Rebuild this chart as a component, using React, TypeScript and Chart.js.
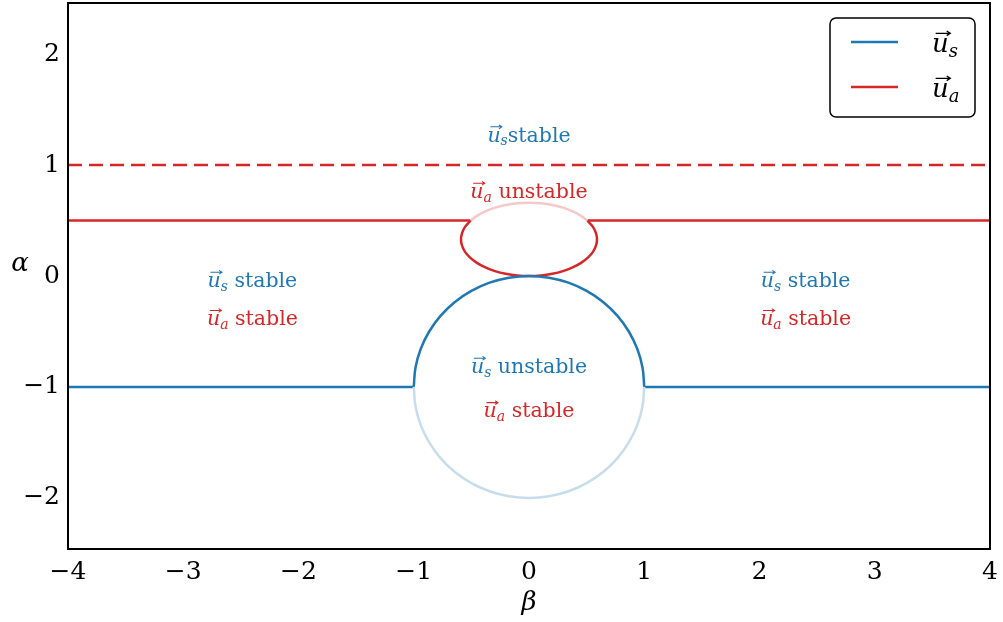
import React, { useEffect, useRef } from "react";
import { Chart, registerables } from "chart.js";

Chart.register(...registerables);

// Stability boundaries in the (β, α) plane
const usBranchLeft = [{ x: -4, y: -1 }, { x: -1, y: -1 }];
const usBranchRight = [{ x: 1, y: -1 }, { x: 4, y: -1 }];
const usArcUpperX = [-1, -0.985, -0.94, -0.866, -0.766, -0.643, -0.5, -0.342, -0.174, 0, 0.174, 0.342, 0.5, 0.643, 0.766, 0.866, 0.94, 0.985, 1];
const usArcUpperY = [-1, -0.826, -0.658, -0.5, -0.357, -0.234, -0.134, -0.06, -0.015, 0, -0.015, -0.06, -0.134, -0.234, -0.357, -0.5, -0.658, -0.826, -1];
const usArcLowerX = [-1, -0.985, -0.94, -0.866, -0.766, -0.643, -0.5, -0.342, -0.174, 0, 0.174, 0.342, 0.5, 0.643, 0.766, 0.866, 0.94, 0.985, 1];
const usArcLowerY = [-1, -1.174, -1.342, -1.5, -1.643, -1.766, -1.866, -1.94, -1.985, -2, -1.985, -1.94, -1.866, -1.766, -1.643, -1.5, -1.342, -1.174, -1];

const uaBranchLeft = [{ x: -4, y: 0.5 }, { x: -0.506, y: 0.5 }];
const uaBranchRight = [{ x: 0.506, y: 0.5 }, { x: 4, y: 0.5 }];
const uaLoopLowerX = [-0.506, -0.555, -0.581, -0.59, -0.581, -0.555, -0.511, -0.452, -0.379, -0.295, -0.202, -0.103, 0, 0.103, 0.202, 0.295, 0.379, 0.452, 0.511, 0.555, 0.581, 0.59, 0.581, 0.555, 0.506];
const uaLoopLowerY = [0.5, 0.443, 0.387, 0.33, 0.273, 0.217, 0.165, 0.118, 0.077, 0.044, 0.02, 0.005, 0, 0.005, 0.02, 0.044, 0.077, 0.118, 0.165, 0.217, 0.273, 0.33, 0.387, 0.443, 0.5];
const uaLoopUpperX = [-0.506, -0.452, -0.379, -0.295, -0.202, -0.103, 0, 0.103, 0.202, 0.295, 0.379, 0.452, 0.506];
const uaLoopUpperY = [0.5, 0.542, 0.583, 0.616, 0.64, 0.655, 0.66, 0.655, 0.64, 0.616, 0.583, 0.542, 0.5];
const uaDashed = [{ x: -4, y: 1 }, { x: 4, y: 1 }];

const xTicks = [-4, -3, -2, -1, 0, 1, 2, 3, 4];
const yTicks = [-2, -1, 0, 1, 2];

// Region annotations: vector name, subscript, remaining text, anchor (β, α), colour key
const regionSubs = ["s", "a", "s", "a", "s", "a", "s", "a"];
const regionRest = [" stable", " stable", " stable", " stable", " unstable", " stable", "stable", " unstable"];
const regionX = [-2.4, -2.4, 2.4, 2.4, 0, 0, 0, 0];
const regionY = [-0.045, -0.39, -0.045, -0.39, -0.82, -1.22, 1.265, 0.757];
const regionColor = ["s", "a", "s", "a", "s", "a", "s", "a"];

const legendSubs = ["s", "a"];

const BLUE = "rgb(31,119,180)";
const RED = "rgb(214,39,40)";
const BLUE_LIGHT = "rgb(199,221,236)";
const RED_LIGHT = "rgb(245,201,201)";
const FONT = "'DejaVu Serif', serif";

const zipPts = (xs: number[], ys: number[]) => xs.map((x, i) => ({ x, y: ys[i] }));
const fmtTick = (v: number) => (v < 0 ? "\u2212" + Math.abs(v) : String(v));

function drawVec(
  ctx: CanvasRenderingContext2D,
  cx: number,
  baseline: number,
  sub: string,
  rest: string,
  color: string,
  size: number,
  align: "center" | "left"
) {
  ctx.save();
  ctx.textBaseline = "alphabetic";
  ctx.textAlign = "left";
  const mainFont = `italic ${size}px ${FONT}`;
  const subFont = `italic ${Math.round(size * 0.7)}px ${FONT}`;
  const restFont = `${size}px ${FONT}`;
  ctx.font = mainFont;
  const wu = ctx.measureText("u").width;
  ctx.font = subFont;
  const ws = ctx.measureText(sub).width;
  ctx.font = restFont;
  const wr = rest ? ctx.measureText(rest).width : 0;
  const total = wu + ws + wr;
  const x0 = align === "center" ? cx - total / 2 : cx;
  ctx.fillStyle = color;
  ctx.strokeStyle = color;
  ctx.font = mainFont;
  ctx.fillText("u", x0, baseline);
  ctx.font = subFont;
  ctx.fillText(sub, x0 + wu, baseline + size * 0.18);
  if (rest) {
    ctx.font = restFont;
    ctx.fillText(rest, x0 + wu + ws, baseline);
  }
  // vector arrow over the u
  const ay = baseline - size * 0.72;
  const ax1 = x0 + size * 0.14;
  const ax2 = x0 + wu + size * 0.06;
  ctx.lineWidth = Math.max(1, size * 0.05);
  ctx.beginPath();
  ctx.moveTo(ax1, ay);
  ctx.lineTo(ax2, ay);
  ctx.moveTo(ax2 - size * 0.14, ay - size * 0.09);
  ctx.lineTo(ax2, ay);
  ctx.lineTo(ax2 - size * 0.14, ay + size * 0.09);
  ctx.stroke();
  ctx.restore();
}

const decorations = {
  id: "decorations",
  afterDraw(chart: any) {
    const { ctx, chartArea, scales } = chart;
    const xs = scales.x;
    const ys = scales.y;

    // region annotations
    for (let i = 0; i < regionSubs.length; i++) {
      const px = xs.getPixelForValue(regionX[i]);
      const py = ys.getPixelForValue(regionY[i]);
      const col = regionColor[i] === "s" ? BLUE : RED;
      drawVec(ctx, px, py + 6, regionSubs[i], regionRest[i], col, 20.5, "center");
    }

    // frame
    ctx.save();
    ctx.strokeStyle = "#000";
    ctx.lineWidth = 2;
    ctx.strokeRect(chartArea.left, chartArea.top, chartArea.right - chartArea.left, chartArea.bottom - chartArea.top);
    ctx.restore();

    // axis titles
    ctx.save();
    ctx.fillStyle = "#000";
    ctx.font = `italic 26px ${FONT}`;
    ctx.textAlign = "center";
    ctx.textBaseline = "middle";
    ctx.fillText("\u03b2", (chartArea.left + chartArea.right) / 2, chartArea.bottom + 54);
    ctx.fillText("\u03b1", chartArea.left - 48, ys.getPixelForValue(0) - 12);
    ctx.restore();

    // legend
    const bw = 145;
    const bh = 99;
    const bx = chartArea.right - 15 - bw;
    const by = chartArea.top + 15;
    ctx.save();
    ctx.fillStyle = "#fff";
    ctx.strokeStyle = "#000";
    ctx.lineWidth = 1.5;
    ctx.beginPath();
    ctx.roundRect(bx, by, bw, bh, 6);
    ctx.fill();
    ctx.stroke();
    const legendColors = [BLUE, RED];
    for (let i = 0; i < legendSubs.length; i++) {
      const ly = by + 24 + i * 45;
      ctx.strokeStyle = legendColors[i];
      ctx.lineWidth = 2.5;
      ctx.beginPath();
      ctx.moveTo(bx + 21, ly);
      ctx.lineTo(bx + 68, ly);
      ctx.stroke();
      drawVec(ctx, bx + 102, ly + 10, legendSubs[i], "", "#000", 26, "left");
    }
    ctx.restore();
  },
};

const noPadding = (s: any) => {
  s.paddingTop = 0;
  s.paddingBottom = 0;
  s.paddingLeft = 0;
  s.paddingRight = 0;
};

export default function App() {
  const canvasRef = useRef<HTMLCanvasElement | null>(null);

  useEffect(() => {
    const canvas = canvasRef.current;
    if (!canvas) return;
    const line = (data: any[], color: string, extra: any = {}) => ({
      data,
      borderColor: color,
      backgroundColor: color,
      borderWidth: 2.5,
      pointRadius: 0,
      showLine: true,
      fill: false,
      tension: 0,
      ...extra,
    });
    const chart = new Chart(canvas, {
      type: "scatter",
      data: {
        datasets: [
          line(zipPts(usArcLowerX, usArcLowerY), BLUE_LIGHT, { tension: 0.4 }),
          line(zipPts(uaLoopUpperX, uaLoopUpperY), RED_LIGHT, { tension: 0.4 }),
          line(usBranchLeft, BLUE),
          line(usBranchRight, BLUE),
          line(zipPts(usArcUpperX, usArcUpperY), BLUE, { tension: 0.4 }),
          line(uaBranchLeft, RED),
          line(uaBranchRight, RED),
          line(zipPts(uaLoopLowerX, uaLoopLowerY), RED, { tension: 0.4 }),
          line(uaDashed, RED, { borderDash: [14, 7] }),
        ],
      },
      options: {
        animation: false,
        responsive: false,
        devicePixelRatio: 1,
        layout: { padding: { top: 3, right: 13, left: 0, bottom: 0 } },
        plugins: { legend: { display: false }, tooltip: { enabled: false } },
        scales: {
          x: {
            type: "linear",
            min: -4,
            max: 4,
            grid: { display: false, drawTicks: false },
            border: { display: false },
            afterBuildTicks: (s: any) => {
              s.ticks = xTicks.map((v) => ({ value: v }));
            },
            ticks: {
              color: "#000",
              font: { family: FONT, size: 25 },
              padding: 8,
              maxRotation: 0,
              autoSkip: false,
              callback: (v: any) => fmtTick(Number(v)),
            },
            afterFit: (s: any) => {
              s.height = 73;
              noPadding(s);
            },
          },
          y: {
            type: "linear",
            min: -2.46,
            max: 2.46,
            grid: { display: false, drawTicks: false },
            border: { display: false },
            afterBuildTicks: (s: any) => {
              s.ticks = yTicks.map((v) => ({ value: v }));
            },
            ticks: {
              color: "#000",
              font: { family: FONT, size: 25 },
              padding: 8,
              autoSkip: false,
              callback: (v: any) => fmtTick(Number(v)),
            },
            afterFit: (s: any) => {
              s.width = 68;
              noPadding(s);
            },
          },
        },
      },
      plugins: [decorations],
    });
    return () => chart.destroy();
  }, []);

  return (
    <div style={{ position: "fixed", left: 0, top: 0, width: 1003, height: 622, background: "#fff" }}>
      <canvas ref={canvasRef} width={1003} height={622} style={{ display: "block" }} />
    </div>
  );
}
